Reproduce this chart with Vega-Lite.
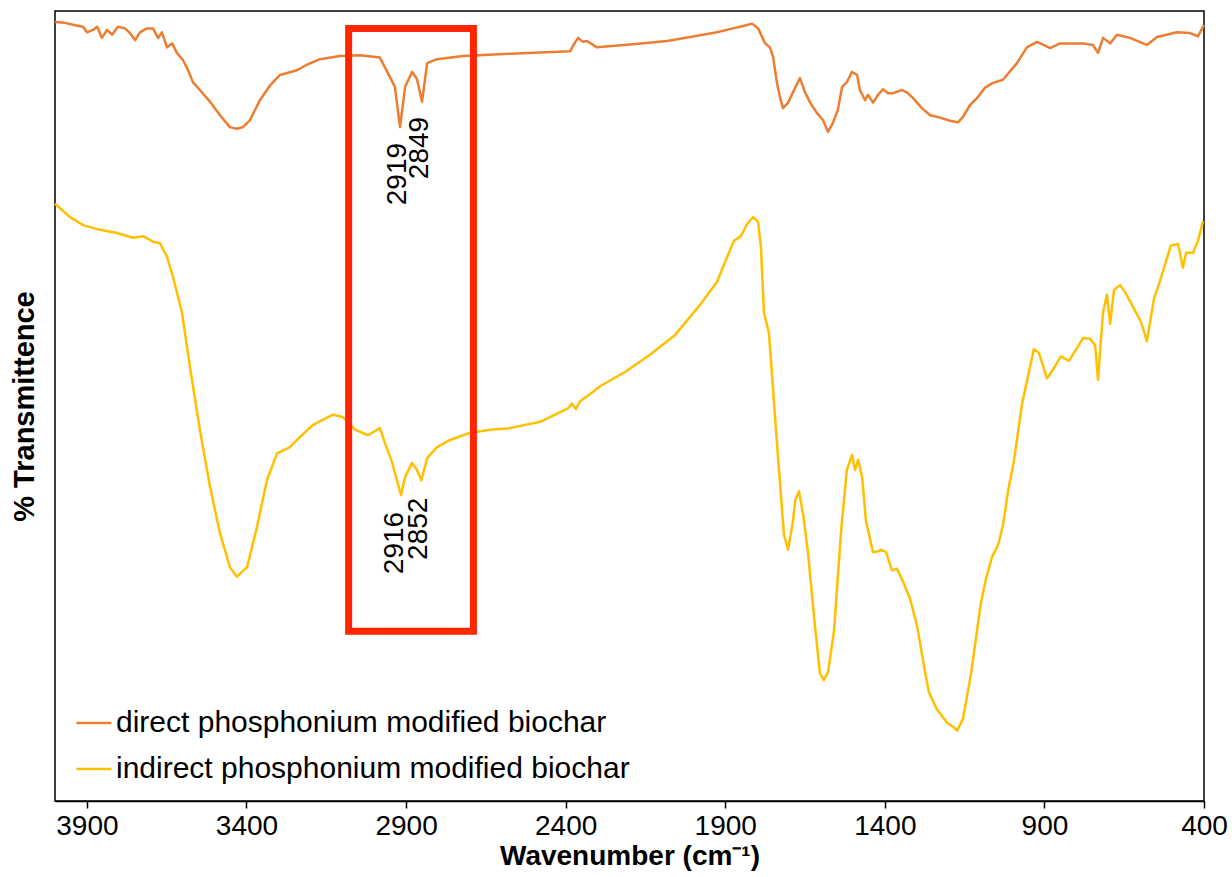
{
  "$schema": "https://vega.github.io/schema/vega-lite/v6.json",
  "autosize": "none",
  "width": 1149,
  "height": 790,
  "padding": {"left": 55, "top": 11, "right": 28, "bottom": 76},
  "background": "white",
  "config": {
    "font": "Liberation Sans",
    "view": {"stroke": "black", "strokeWidth": 1.5}
  },
  "datasets": {
    "direct": [
      [4000,98.6],[3969,98.5],[3937,98.2],[3912,98.0],[3900,97.3],[3881,97.6],[3868,98.0],[3853,96.6],[3837,97.6],[3821,97.0],[3803,98.0],[3781,97.8],[3765,97.2],[3749,96.3],[3734,97.3],[3712,97.8],[3693,97.8],[3677,96.6],[3665,97.3],[3649,95.4],[3633,95.9],[3618,94.7],[3599,93.8],[3583,92.5],[3568,91.0],[3546,90.0],[3514,88.5],[3483,86.8],[3452,85.3],[3430,85.1],[3411,85.3],[3389,86.2],[3358,88.7],[3326,90.6],[3295,91.9],[3242,92.5],[3210,93.2],[3170,93.9],[3107,94.3],[3044,94.4],[2982,94.1],[2950,91.6],[2935,90.4],[2919,85.3],[2903,90.4],[2881,92.3],[2866,91.4],[2850,88.5],[2834,93.4],[2803,93.9],[2722,94.3],[2574,94.6],[2386,94.9],[2374,95.8],[2361,96.6],[2346,96.1],[2333,96.2],[2302,95.4],[2189,95.8],[2082,96.2],[2010,96.7],[1926,97.3],[1876,97.8],[1844,98.1],[1816,98.4],[1797,97.8],[1775,95.9],[1760,95.4],[1750,94.2],[1738,90.9],[1728,89.0],[1719,87.7],[1703,88.4],[1688,89.7],[1666,91.5],[1650,89.7],[1634,88.4],[1613,87.1],[1594,86.2],[1578,84.7],[1562,85.9],[1547,87.5],[1534,90.4],[1519,91.0],[1503,92.3],[1487,91.9],[1478,90.0],[1462,88.7],[1453,89.4],[1437,88.4],[1421,89.4],[1406,90.1],[1390,89.6],[1374,89.6],[1346,90.0],[1331,89.7],[1312,89.0],[1284,87.7],[1258,86.8],[1227,86.5],[1196,86.1],[1171,85.9],[1155,86.6],[1133,88.1],[1111,89.0],[1086,90.3],[1061,90.9],[1030,91.3],[986,93.4],[955,95.4],[923,96.1],[882,95.3],[851,95.9],[779,95.9],[748,95.7],[732,94.7],[716,96.6],[694,95.9],[673,97.0],[632,96.6],[579,95.7],[547,96.7],[485,97.3],[444,97.2],[419,96.8],[400,98.2]
    ],
    "indirect": [
      [4000,75.6],[3953,73.9],[3912,72.9],[3859,72.3],[3806,71.9],[3756,71.3],[3724,71.5],[3693,70.8],[3671,70.6],[3649,68.9],[3630,66.3],[3602,61.8],[3577,54.9],[3546,47.0],[3514,39.7],[3483,33.9],[3452,29.6],[3430,28.4],[3398,29.6],[3367,34.7],[3336,40.6],[3304,44.0],[3264,44.8],[3232,46.1],[3192,47.6],[3129,48.9],[3098,48.6],[3060,47.0],[3019,46.3],[2982,47.2],[2966,45.3],[2944,42.9],[2916,38.7],[2903,41.0],[2881,42.8],[2866,41.9],[2852,40.6],[2834,43.4],[2803,44.8],[2762,45.7],[2700,46.6],[2637,47.0],[2574,47.2],[2480,48.0],[2393,49.7],[2380,50.3],[2368,49.6],[2355,50.6],[2324,51.5],[2292,52.5],[2214,54.3],[2136,56.5],[2057,59.0],[1979,62.8],[1926,65.7],[1873,70.9],[1851,71.5],[1832,73.0],[1813,73.9],[1797,73.3],[1788,70.0],[1779,61.9],[1763,59.2],[1744,48.6],[1728,40.0],[1716,33.7],[1703,31.8],[1688,35.4],[1681,38.0],[1669,39.2],[1656,36.3],[1641,31.5],[1619,22.2],[1603,16.1],[1591,15.3],[1578,16.3],[1559,21.6],[1537,34.2],[1519,41.9],[1503,43.8],[1493,41.9],[1484,43.2],[1471,41.0],[1459,35.4],[1437,31.5],[1421,31.6],[1412,31.8],[1396,31.5],[1378,29.2],[1362,29.4],[1343,27.8],[1321,25.6],[1299,22.2],[1277,17.0],[1262,13.8],[1237,11.6],[1205,9.9],[1186,9.4],[1174,8.9],[1155,10.4],[1130,16.1],[1099,25.1],[1083,28.1],[1064,30.9],[1045,32.4],[1030,34.9],[1014,39.2],[995,43.2],[970,50.3],[933,57.2],[917,56.7],[892,53.5],[873,54.6],[848,56.3],[823,55.7],[779,58.6],[757,58.5],[741,57.7],[732,53.3],[723,58.4],[716,61.9],[704,64.1],[694,60.4],[682,64.7],[663,65.3],[647,64.4],[619,62.3],[597,60.6],[579,58.2],[557,63.5],[535,66.2],[504,70.3],[481,70.5],[466,67.5],[456,69.4],[434,69.4],[419,70.9],[403,73.4]
    ],
    "box": [{"x1": 3080, "x2": 2689, "y1": 97.8, "y2": 21.5}],
    "peaks": [
      {"label": "2919", "wn": 2924, "t": 83.3},
      {"label": "2849", "wn": 2856, "t": 86.6},
      {"label": "2916", "wn": 2935, "t": 36.6},
      {"label": "2852", "wn": 2860, "t": 38.4}
    ]
  },
  "layer": [
    {
      "data": {"name": "direct"},
      "transform": [
        {"calculate": "datum[0]", "as": "wn"},
        {"calculate": "datum[1]", "as": "t"},
        {"calculate": "'direct phosphonium modified biochar'", "as": "series"}
      ],
      "mark": {"type": "line", "strokeWidth": 2.5, "strokeJoin": "round"},
      "encoding": {
        "x": {"field": "wn", "type": "quantitative", "scale": {"domain": [400, 4000], "reverse": true, "nice": false, "zero": false},
          "axis": {"values": [3900, 3400, 2900, 2400, 1900, 1400, 900, 400], "title": "Wavenumber (cm⁻¹)", "grid": false,
            "domainColor": "black", "domainWidth": 1.5, "tickColor": "black", "tickWidth": 1.5, "tickSize": 7,
            "labelFontSize": 28, "labelColor": "black", "labelPadding": 4, "labelFlush": false,
            "titleFontSize": 28, "titleFontWeight": "bold", "titleColor": "black", "titlePadding": 2, "format": "d"}},
        "y": {"field": "t", "type": "quantitative", "scale": {"domain": [0, 100], "nice": false},
          "axis": {"title": "% Transmittence", "labels": false, "ticks": false, "grid": false, "domain": false,
            "titleFontSize": 29, "titleFontWeight": "bold", "titleColor": "black", "titlePadding": 16}},
        "color": {"field": "series", "type": "nominal",
          "scale": {"domain": ["direct phosphonium modified biochar", "indirect phosphonium modified biochar"], "range": ["#ED7D31", "#FFC000"]},
          "legend": {"title": null, "orient": "none", "legendX": 20, "legendY": 693, "symbolType": "stroke", "symbolSize": 1225,
            "symbolStrokeWidth": 2.5, "labelFontSize": 30, "labelLimit": 0, "labelColor": "black", "labelOffset": 3, "rowPadding": 12, "padding": 0}}
      }
    },
    {
      "data": {"name": "indirect"},
      "transform": [
        {"calculate": "datum[0]", "as": "wn"},
        {"calculate": "datum[1]", "as": "t"},
        {"calculate": "'indirect phosphonium modified biochar'", "as": "series"}
      ],
      "mark": {"type": "line", "strokeWidth": 2.5, "strokeJoin": "round"},
      "encoding": {
        "x": {"field": "wn", "type": "quantitative"},
        "y": {"field": "t", "type": "quantitative"},
        "color": {"field": "series", "type": "nominal"}
      }
    },
    {
      "data": {"name": "box"},
      "mark": {"type": "rect", "fill": null, "filled": false, "stroke": "#FF2600", "strokeWidth": 7},
      "encoding": {
        "x": {"field": "x1", "type": "quantitative"},
        "x2": {"field": "x2"},
        "y": {"field": "y1", "type": "quantitative"},
        "y2": {"field": "y2"}
      }
    },
    {
      "data": {"name": "peaks"},
      "mark": {"type": "text", "angle": 270, "align": "right", "baseline": "middle", "fontSize": 28, "color": "black"},
      "encoding": {
        "x": {"field": "wn", "type": "quantitative"},
        "y": {"field": "t", "type": "quantitative"},
        "text": {"field": "label"}
      }
    }
  ]
}
